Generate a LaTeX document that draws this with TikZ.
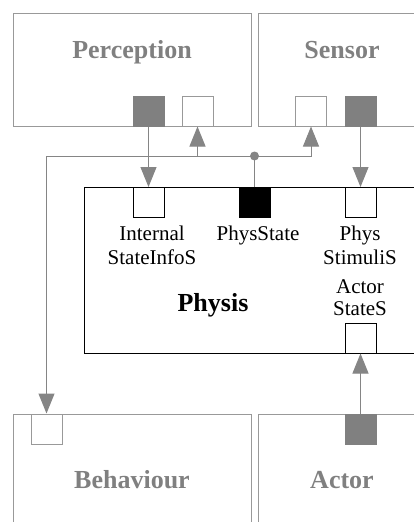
\documentclass[tikz,border=0pt]{standalone}
\usepackage{fontspec}
\setmainfont{Liberation Serif}
\usetikzlibrary{arrows.meta}
\definecolor{boxgray}{HTML}{999999}
\definecolor{linegray}{HTML}{858585}
\definecolor{portgray}{HTML}{808080}
\definecolor{textgray}{HTML}{808080}
\begin{document}
\begin{tikzpicture}[x=1pt,y=-1pt,
  gbox/.style={draw=boxgray, line width=1pt, inner sep=0pt},
  pbox/.style={draw=black, line width=1pt, inner sep=0pt},
  gport/.style={draw=boxgray, line width=1pt, minimum width=31pt, minimum height=30pt, inner sep=0pt},
  gportf/.style={gport, fill=portgray, draw=portgray},
  bport/.style={draw=black, line width=1pt, minimum width=31pt, minimum height=30pt, inner sep=0pt, fill=white},
  bportf/.style={bport, fill=black},
  title/.style={font=\fontsize{26}{30}\selectfont\bfseries, text=textgray, anchor=base, inner sep=0pt},
  ptitle/.style={font=\fontsize{26}{30}\selectfont\bfseries, text=black, anchor=base, inner sep=0pt},
  lbl/.style={font=\fontsize{21}{24}\selectfont, text=black, anchor=base, inner sep=0pt},
  conn/.style={draw=linegray, line width=1pt},
  tip/.tip={Triangle[length=20pt, width=16pt]},
  arr/.style={conn, -tip}
]
\useasboundingbox (0,0) rectangle (414,522);
\clip (0,0) rectangle (414,522);
% component boxes
\node[gbox, minimum width=238pt, minimum height=113pt] (perc) at (132,69.5) {};
\node[gbox, minimum width=220pt, minimum height=113pt] (sens) at (368,69.5) {};
\node[pbox, minimum width=360pt, minimum height=166pt, fill=white] (phys) at (264,270) {};
\node[gbox, minimum width=238pt, minimum height=120pt] (behav) at (132,474) {};
\node[gbox, minimum width=220pt, minimum height=120pt] (act) at (368,474) {};
% titles
\node[title] (tperc) at (132,58.3) {Perception};
\node[title] (tsens) at (342,58.3) {Sensor};
\node[ptitle] (tphys) at (213,311.7) {Physis};
\node[title] (tbehav) at (132,488.3) {Behaviour};
\node[title] (tact) at (342,488.3) {Actor};
% ports
\node[gportf] (pout) at (148.5,111) {};
\node[gport] (pin) at (197.5,111) {};
\node[gport] (sin) at (311,111) {};
\node[gportf] (sout) at (360.5,111) {};
\node[bport] (isis) at (148.5,202.5) {};
\node[bportf] (pst) at (254.5,202.5) {};
\node[bport] (pstim) at (360.5,202.5) {};
\node[bport] (ast) at (360.5,338) {};
\node[gport] (bin) at (46.5,429) {};
\node[gportf] (aout) at (360.5,429) {};
% port labels
\node[lbl] (l1a) at (152,240) {Internal};
\node[lbl] (l1b) at (152,264.3) {StateInfoS};
\node[lbl] (l2) at (258,240) {PhysState};
\node[lbl] (l3a) at (360,240) {Phys};
\node[lbl] (l3b) at (360,264.3) {StimuliS};
\node[lbl] (l4a) at (360,293.3) {Actor};
\node[lbl] (l4b) at (360,315.7) {StateS};
% connectors
\coordinate (dot) at (254.5,156);
\coordinate (lc) at (46.5,156);
\coordinate (rc) at (311,156);
\coordinate (mc) at (197.5,156);
\draw[arr] (pout.south) -- (isis.north);
\draw[arr] (sout.south) -- (pstim.north);
\draw[conn] (pst.north) -- (dot);
\draw[arr] (dot) -- (lc) -- (bin.north);
\draw[arr] (dot) -- (rc) -- (sin.south);
\draw[arr] (mc) -- (pin.south);
\fill[linegray] (dot) circle (4.5pt);
\draw[arr] (aout.north) -- (ast.south);
\end{tikzpicture}
\end{document}
